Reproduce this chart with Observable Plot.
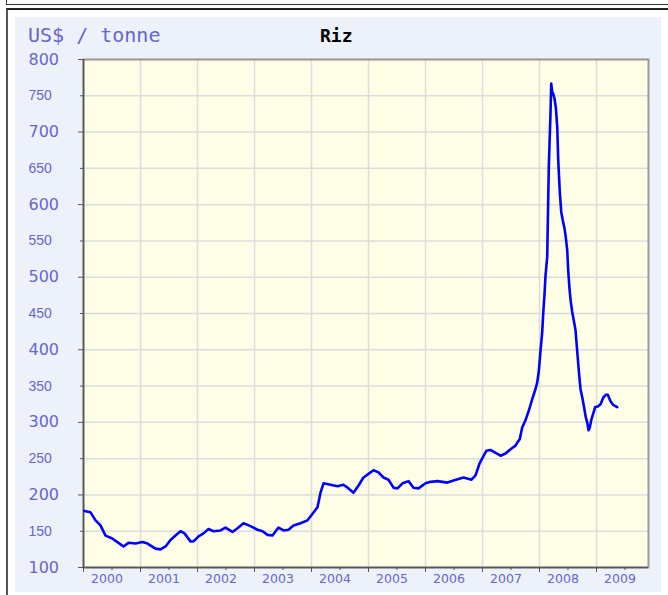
<!DOCTYPE html>
<html><head><meta charset="utf-8">
<script src="https://cdn.jsdelivr.net/npm/d3@7"></script>
<script src="https://cdn.jsdelivr.net/npm/@observablehq/plot@0.6"></script>
<style>
body{margin:0;background:#fff;width:668px;height:595px;position:relative;overflow:hidden}
#b1{position:absolute;left:6px;top:-4px;width:700px;height:8px;border-left:1.5px solid #333;border-bottom:1.5px solid #333}
#b2{position:absolute;left:6px;top:8px;width:700px;height:700px;border-left:2px solid #555;border-top:2px solid #222}
#panel{position:absolute;left:15px;top:17px;width:646px;height:575px;background:#edf1fa}
#chart{position:absolute;left:0;top:0}
</style></head><body>
<div id="b1"></div><div id="b2"></div><div id="panel"></div><div id="chart"></div>
<script>
// Rice price, US$ / tonne (decimal year, price)
const years = [2000.018,2000.123,2000.211,2000.298,2000.386,2000.504,2000.614,2000.702,2000.789,2000.912,
2001.035,2001.123,2001.263,2001.351,2001.439,2001.526,2001.614,2001.702,2001.772,2001.877,2001.930,
2002.018,2002.105,2002.193,2002.281,2002.404,2002.491,2002.614,2002.702,2002.807,2002.930,
2003.053,2003.140,2003.228,2003.316,2003.421,2003.509,2003.596,2003.684,2003.807,2003.930,
2004.018,2004.105,2004.158,2004.211,2004.333,2004.456,2004.561,2004.649,2004.737,2004.825,2004.912,
2005.000,2005.088,2005.175,2005.263,2005.351,2005.439,2005.509,2005.596,2005.702,2005.789,2005.877,
2006.000,2006.088,2006.211,2006.386,2006.491,2006.667,2006.807,2006.877,2006.947,
2007.000,2007.070,2007.140,2007.228,2007.316,2007.404,2007.491,2007.579,2007.654,2007.696,2007.754,2007.812,2007.872,2007.930,2007.960,2007.988,
2008.018,2008.047,2008.065,2008.088,2008.105,2008.135,2008.146,2008.163,2008.193,2008.205,2008.223,2008.240,2008.263,2008.286,2008.311,2008.328,2008.356,2008.381,2008.409,2008.439,2008.461,2008.486,2008.504,2008.526,2008.549,2008.574,2008.602,2008.632,2008.649,2008.672,2008.696,2008.719,2008.749,2008.777,2008.812,2008.837,2008.860,2008.882,2008.907,2008.942,2008.977,
2009.023,2009.070,2009.118,2009.163,2009.198,2009.246,2009.293,2009.363];
const prices = [178,176,165,158,144,140,134,129,134,133,
135,133,126,125,129,138,144,150,147,136,136,
143,147,153,150,151,155,149,154,161,157,
152,150,145,144,155,151,152,158,161,165,
174,183,203,216,214,212,214,209,203,213,224,
229,234,231,224,221,210,209,216,219,210,209,
216,218,219,217,220,224,221,227,243,
251,261,262,258,254,257,263,268,277,293,303,316,332,346,355,371,
399,424,450,477,502,528,578,652,727,767,755,753,746,734,707,662,617,590,578,567,555,537,509,484,466,452,440,427,410,388,365,346,335,323,307,300,289,293,303,312,321,
322,325,334,338,338,329,324,321];
const yearTicks = [2000,2001,2002,2003,2004,2005,2006,2007,2008,2009];
const yMajor = [100,200,300,400,500,600,700,800];
const yMinor = [150,250,350,450,550,650,750];

const data = years.map((t,i)=>({t, v: prices[i]}));
const blue = "#6666cc";

const chart = Plot.plot({
  width:668, height:595, marginLeft:83, marginRight:20, marginTop:59, marginBottom:28,
  style:{background:"transparent", overflow:"visible"},
  x:{domain:[2000, 2009.912], axis:null},
  y:{domain:[100,800], axis:null},
  marks:[
    Plot.frame({fill:"#fefee7"}),
    Plot.gridX(yearTicks.slice(1), {stroke:"#dcdcdc", strokeOpacity:1, strokeWidth:1.5}),
    Plot.gridY([...yMajor, ...yMinor], {stroke:"#dcdcdc", strokeOpacity:1, strokeWidth:1.5}),
    Plot.frame({stroke:"#9a9a9a", strokeWidth:2}),
    Plot.ruleX([2000], {stroke:"#555", strokeWidth:1.5}),
    Plot.ruleY([100], {stroke:"#555", strokeWidth:1.5}),
    Plot.axisY(yMajor, {tickSize:5, tickFormat:()=>"", stroke:"#555", label:null}),
    Plot.axisY(yMinor, {tickSize:3, tickFormat:()=>"", stroke:"#555", label:null}),
    Plot.axisX(yearTicks, {tickSize:5, tickFormat:()=>"", stroke:"#555", label:null}),
    Plot.axisX(yearTicks.map(y=>y+0.5), {tickSize:3, tickFormat:()=>"", stroke:"#555", label:null}),
    Plot.line(data, {x:"t", y:"v", stroke:"#0000ff", strokeWidth:2.6}),
    Plot.text(yMajor, {y:d=>d, text:d=>String(d), frameAnchor:"left", textAnchor:"start", dx:-55, fill:blue, fontSize:16, fontFamily:"DejaVu Sans"}),
    Plot.text(yMinor, {y:d=>d, text:d=>String(d), frameAnchor:"left", textAnchor:"start", dx:-55, fill:blue, fontSize:14, fontFamily:"Liberation Sans"}),
    Plot.text(yearTicks, {x:d=>d+0.5, text:d=>String(d), frameAnchor:"bottom", dy:15, dx:-5, fill:blue, fontSize:12.5, fontFamily:"DejaVu Sans"})
  ]
});
document.getElementById("chart").appendChild(chart);
const svg = d3.select(chart);
svg.append("text").attr("x",28).attr("y",42).attr("fill",blue).attr("text-anchor","start")
  .attr("font-family","DejaVu Sans Mono").attr("font-size",20).text("US$ / tonne");
svg.append("text").attr("x",320).attr("y",42).attr("fill","#000").attr("font-weight","bold").attr("text-anchor","start")
  .attr("font-family","DejaVu Sans Mono").attr("font-size",18).text("Riz");
</script>
</body></html>
